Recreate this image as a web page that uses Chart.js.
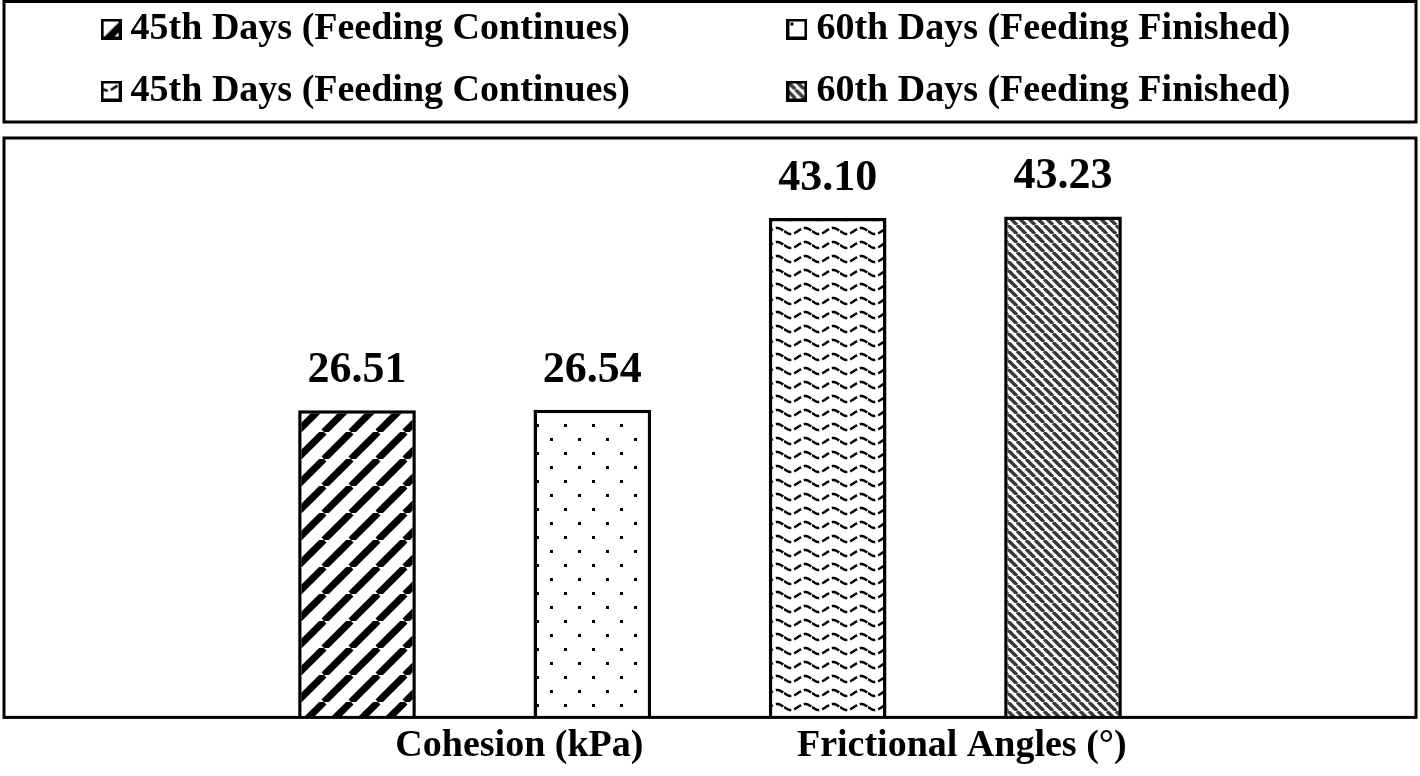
<!DOCTYPE html>
<html>
<head>
<meta charset="utf-8">
<script src="https://cdn.jsdelivr.net/npm/chart.js@4.4.1/dist/chart.umd.min.js"></script>
<style>
  html, body { margin: 0; padding: 0; background: #fff; }
  #wrap { width: 1420px; height: 776px; }
</style>
</head>
<body>
<div id="wrap"><canvas id="chart"></canvas></div>
<script>
// slots on the category axis (empty ones at both ends, like the original)
const slots = ['', 'c45', 'c60', 'f45', 'f60', ''];
const groupLabels = ['Cohesion (kPa)', 'Frictional Angles (°)'];
const seriesNames = [
  '45th Days (Feeding Continues)',
  '60th Days (Feeding Finished)',
  '45th Days (Feeding Continues)',
  '60th Days (Feeding Finished)'
];
const seriesValues = [26.51, 26.54, 43.10, 43.23];

const serif = "'Liberation Serif', 'Times New Roman', serif";

// hatch fills
function tile(w, h, draw) {
  const c = document.createElement('canvas');
  c.width = w; c.height = h;
  const g = c.getContext('2d');
  g.fillStyle = '#fff';
  g.fillRect(0, 0, w, h);
  draw(g, w, h);
  return g.createPattern(c, 'repeat');
}

const fills = [
  // wide "/" stripes
  tile(27, 27, (g, s) => {
    g.strokeStyle = '#000'; g.lineWidth = 7;
    for (let k = -1; k <= 1; k++) { g.beginPath(); g.moveTo(k * s, s); g.lineTo(k * s + s, 0); g.stroke(); }
  }),
  // sparse dots
  tile(28, 28, (g) => {
    g.fillStyle = '#000';
    g.fillRect(4, 4, 3, 3);
    g.fillRect(18, 18, 3, 3);
  }),
  // small waves
  tile(28, 14, (g, w, h) => {
    g.strokeStyle = '#000'; g.lineWidth = 2.5;
    g.setLineDash([8, 3]);
    g.beginPath();
    for (let x = 0; x <= w; x++) {
      const y = h / 2 + 3 * Math.sin(x / w * Math.PI * 2);
      if (x === 0) g.moveTo(x, y); else g.lineTo(x, y);
    }
    g.stroke();
  }),
  // dense "\" stripes, dark grey
  tile(9, 9, (g, s) => {
    g.strokeStyle = '#383838'; g.lineWidth = 3.4;
    for (let k = -1; k <= 1; k++) { g.beginPath(); g.moveTo(k * s, 0); g.lineTo(k * s + s, s); g.stroke(); }
  })
];

// little legend swatches
function swatch(fill) {
  const c = document.createElement('canvas');
  c.width = 21; c.height = 21;
  const g = c.getContext('2d');
  g.fillStyle = fill;
  g.fillRect(0, 0, 21, 21);
  g.strokeStyle = '#000'; g.lineWidth = 3;
  g.strokeRect(1.5, 1.5, 18, 18);
  return c;
}
const swatches = fills.map(swatch);

const datasets = seriesValues.map((v, i) => ({
  label: seriesNames[i],
  data: [{ x: slots[i + 1], y: v }],
  backgroundColor: fills[i],
  borderColor: '#000',
  borderWidth: 3.5,
  grouped: false,
  categoryPercentage: 1,
  barPercentage: 0.5
}));

// values above the bars
const valueLabels = {
  id: 'valueLabels',
  afterDatasetsDraw(chart) {
    const ctx = chart.ctx;
    ctx.save();
    ctx.font = 'bold 44px ' + serif;
    ctx.fillStyle = '#000';
    ctx.textAlign = 'center';
    ctx.textBaseline = 'alphabetic';
    chart.data.datasets.forEach((ds, i) => {
      chart.getDatasetMeta(i).data.forEach((bar, j) => {
        ctx.fillText(ds.data[j].y.toFixed(2), bar.x, bar.y - 28);
      });
    });
    ctx.restore();
  }
};

// frames round the legend and the plot
const frames = {
  id: 'frames',
  afterDraw(chart) {
    const ctx = chart.ctx;
    const a = chart.chartArea;
    ctx.save();
    ctx.strokeStyle = '#000';
    ctx.lineWidth = 3;
    ctx.strokeRect(a.left, a.top, a.right - a.left, a.bottom - a.top);
    ctx.strokeRect(a.left, 1.5, a.right - a.left, 120.5);
    ctx.restore();
  }
};

new Chart(document.getElementById('chart'), {
  type: 'bar',
  data: { labels: slots, datasets: datasets },
  options: {
    responsive: true,
    maintainAspectRatio: false,
    animation: false,
    layout: { padding: { top: -14, left: 4, right: 4, bottom: 1 } },
    plugins: {
      tooltip: { enabled: false },
      title: { display: true, text: '', weight: 500, font: { size: 18, lineHeight: 1 }, padding: 0 },
      legend: {
        position: 'top',
        labels: {
          usePointStyle: true,
          pointStyleWidth: 1,
          padding: 24,
          color: '#000',
          font: { family: serif, size: 38, weight: 'bold' },
          generateLabels(chart) {
            return chart.data.datasets.map((ds, i) => ({
              text: ds.label + ' '.repeat(i % 2 === 0 ? 15 : 2),
              pointStyle: swatches[i],
              fillStyle: '#fff',
              strokeStyle: '#000',
              lineWidth: 0,
              hidden: false,
              datasetIndex: i
            }));
          }
        }
      }
    },
    scales: {
      x: { display: false, offset: true },
      x2: {
        type: 'linear',
        position: 'bottom',
        offset: false,
        min: 0,
        max: 6,
        grid: { display: false, drawTicks: false, offset: false },
        border: { display: false },
        afterBuildTicks(axis) {
          axis.ticks = [{ value: 2.19 }, { value: 4.07 }];
        },
        ticks: {
          autoSkip: false,
          maxRotation: 0,
          padding: 6,
          color: '#000',
          font: { family: serif, size: 38, weight: 'bold' },
          callback: (v, i) => groupLabels[i]
        }
      },
      y: { display: false, min: 0, max: 50 }
    }
  },
  plugins: [valueLabels, frames]
});
</script>
</body>
</html>
